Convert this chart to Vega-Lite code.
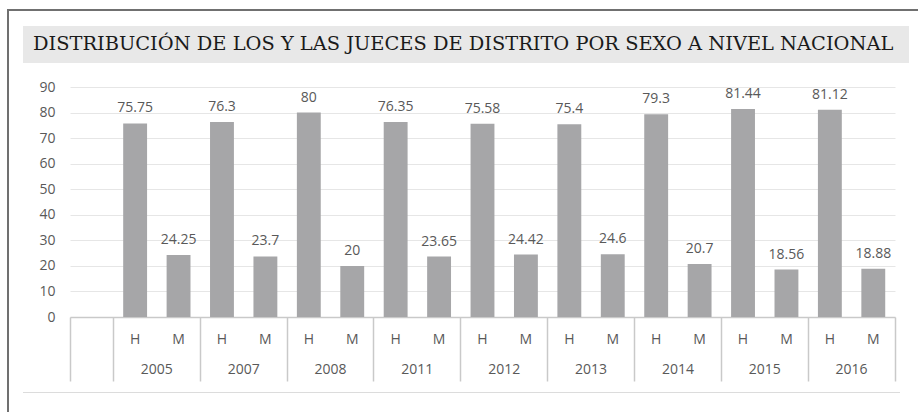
{
  "$schema": "https://vega.github.io/schema/vega-lite/v6.json",
  "padding": {"left": 7, "top": 9, "right": 0, "bottom": 0},
  "spacing": 0,
  "config": {"view": {"stroke": null}, "font": "Open Sans"},
  "vconcat": [
    {
      "width": 911,
      "height": 2,
      "view": {"fill": "#707070", "stroke": null},
      "data": {"values": []},
      "mark": "text"
    },
    {
      "spacing": 14,
      "hconcat": [
        {
          "width": 2,
          "height": 401,
          "view": {"fill": "#707070", "stroke": null},
          "data": {"values": []},
          "mark": "text"
        },
        {
          "spacing": 10,
          "vconcat": [
            {
              "width": 1,
              "height": 5,
              "view": {"stroke": null},
              "data": {"values": []},
              "mark": "text"
            },
            {
              "width": 886,
              "height": 37,
              "view": {"fill": "#e8e8e8", "stroke": null},
              "data": {"values": []},
              "mark": "text",
              "title": {
                "text": "DISTRIBUCIÓN DE LOS Y LAS JUECES DE DISTRITO POR SEXO A NIVEL NACIONAL",
                "anchor": "start",
                "frame": "group",
                "orient": "top",
                "offset": -43,
                "baseline": "alphabetic",
                "dx": 10,
                "font": "DejaVu Serif",
                "fontSize": 19.4,
                "fontWeight": "normal",
                "color": "#1a1a1a"
              }
            },
            {
              "width": 872,
              "height": 230,
              "title": {"text": " ", "fontSize": 2, "offset": 5},
              "data": {
                "values": [
                  {"slot": "2005 H", "anio": "2005", "sexo": "H", "pct": 75.75},
                  {"slot": "2005 M", "anio": "2005", "sexo": "M", "pct": 24.25},
                  {"slot": "2007 H", "anio": "2007", "sexo": "H", "pct": 76.3},
                  {"slot": "2007 M", "anio": "2007", "sexo": "M", "pct": 23.7},
                  {"slot": "2008 H", "anio": "2008", "sexo": "H", "pct": 80},
                  {"slot": "2008 M", "anio": "2008", "sexo": "M", "pct": 20},
                  {"slot": "2011 H", "anio": "2011", "sexo": "H", "pct": 76.35},
                  {"slot": "2011 M", "anio": "2011", "sexo": "M", "pct": 23.65},
                  {"slot": "2012 H", "anio": "2012", "sexo": "H", "pct": 75.58},
                  {"slot": "2012 M", "anio": "2012", "sexo": "M", "pct": 24.42},
                  {"slot": "2013 H", "anio": "2013", "sexo": "H", "pct": 75.4},
                  {"slot": "2013 M", "anio": "2013", "sexo": "M", "pct": 24.6},
                  {"slot": "2014 H", "anio": "2014", "sexo": "H", "pct": 79.3},
                  {"slot": "2014 M", "anio": "2014", "sexo": "M", "pct": 20.7},
                  {"slot": "2015 H", "anio": "2015", "sexo": "H", "pct": 81.44},
                  {"slot": "2015 M", "anio": "2015", "sexo": "M", "pct": 18.56},
                  {"slot": "2016 H", "anio": "2016", "sexo": "H", "pct": 81.12},
                  {"slot": "2016 M", "anio": "2016", "sexo": "M", "pct": 18.88}
                ]
              },
              "encoding": {
                "y": {
                  "field": "pct",
                  "type": "quantitative",
                  "scale": {"domain": [0, 90], "nice": false},
                  "axis": {
                    "title": null,
                    "offset": -47,
                    "values": [0, 10, 20, 30, 40, 50, 60, 70, 80, 90],
                    "grid": true,
                    "gridColor": "#e6e6e6",
                    "domain": false,
                    "ticks": false,
                    "labelPadding": 15,
                    "labelFont": "Open Sans",
                    "labelFontSize": 14,
                    "labelColor": "#595959"
                  }
                }
              },
              "layer": [
                {
                  "mark": {"type": "bar", "width": {"band": 0.55}, "color": "#a6a6a8"},
                  "encoding": {
                    "x": {
                      "field": "slot",
                      "type": "nominal",
                      "scale": {
                        "domain": ["blank", "2005 H", "2005 M", "2007 H", "2007 M", "2008 H", "2008 M", "2011 H", "2011 M", "2012 H", "2012 M", "2013 H", "2013 M", "2014 H", "2014 M", "2015 H", "2015 M", "2016 H", "2016 M"],
                        "range": [47, 872],
                        "paddingInner": 0,
                        "paddingOuter": 0
                      },
                      "axis": {
                        "orient": "bottom",
                        "title": null,
                        "bandPosition": 1,
                        "tickSize": 64,
                        "tickColor": "#c9c9c9",
                        "tickWidth": 1.5,
                        "tickOpacity": {"condition": {"test": "datum.value == 'blank' || indexof(datum.value, 'M') >= 0", "value": 1}, "value": 0},
                        "labelExpr": "datum.value == 'blank' ? '' : split(datum.value, ' ')[1]",
                        "labelPadding": -49,
                        "labelAngle": 0,
                        "labelOverlap": false,
                        "labelFont": "Open Sans",
                        "labelFontSize": 14,
                        "labelColor": "#595959",
                        "domainColor": "#c9c9c9",
                        "domainWidth": 1.5,
                        "grid": false
                      }
                    }
                  }
                },
                {
                  "mark": {"type": "text", "baseline": "middle", "dy": -15, "font": "Open Sans", "fontSize": 14, "color": "#595959"},
                  "encoding": {
                    "x": {
                      "field": "slot",
                      "type": "nominal",
                      "axis": {
                        "orient": "bottom",
                        "title": null,
                        "values": ["blank", "2005 H", "2007 H", "2008 H", "2011 H", "2012 H", "2013 H", "2014 H", "2015 H", "2016 H"],
                        "bandPosition": 0,
                        "tickSize": 64,
                        "tickColor": "#c9c9c9",
                        "tickWidth": 1.5,
                        "tickOpacity": {"condition": {"test": "datum.value == 'blank'", "value": 1}, "value": 0},
                        "labelExpr": "datum.value == 'blank' ? '' : split(datum.value, ' ')[0]",
                        "labelOffset": 21.71,
                        "labelPadding": -19,
                        "labelAngle": 0,
                        "labelOverlap": false,
                        "labelFont": "Open Sans",
                        "labelFontSize": 14,
                        "labelColor": "#595959",
                        "domain": false,
                        "grid": false
                      }
                    },
                    "text": {"field": "pct", "type": "nominal"}
                  }
                }
              ],
              "resolve": {"axis": {"x": "independent"}}
            },
            {
              "width": 877,
              "height": 1,
              "view": {"fill": "#dcdcdc", "stroke": null},
              "data": {"values": []},
              "mark": "text"
            }
          ]
        }
      ]
    }
  ]
}
